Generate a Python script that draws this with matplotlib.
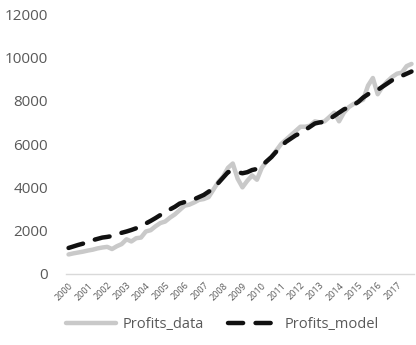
import matplotlib.pyplot as plt
import numpy as np

plt.rcParams['font.family'] = ['Open Sans', 'DejaVu Sans']

years = [str(y) for y in range(2000, 2018)]

# quarterly series, 2000Q1 .. 2017Q4
profits_data = [
    900, 950, 990, 1030, 1080, 1120, 1180, 1220, 1250, 1150, 1280, 1380,
    1600, 1500, 1650, 1680, 1960, 2020, 2200, 2350, 2420, 2600, 2750, 2950,
    3150, 3200, 3300, 3420, 3460, 3550, 3900, 4250, 4500, 4900, 5100, 4400,
    4000, 4300, 4550, 4350, 4900, 5200, 5400, 5700, 6000, 6200, 6400, 6600,
    6800, 6800, 6850, 7050, 7000, 7050, 7250, 7450, 7050, 7450, 7700, 7850,
    7950, 8050, 8700, 9050, 8300, 8650, 8900, 9100, 9250, 9300, 9600, 9700,
]
profits_model = [
    1200, 1270, 1340, 1400, 1480, 1560, 1620, 1680, 1710, 1750, 1820, 1900,
    1960, 2030, 2110, 2200, 2330, 2450, 2580, 2720, 2850, 2980, 3100, 3250,
    3320, 3380, 3450, 3550, 3650, 3800, 3950, 4200, 4450, 4700, 4750, 4700,
    4650, 4700, 4800, 4850, 5000, 5200, 5400, 5650, 5900, 6100, 6250, 6400,
    6500, 6650, 6800, 6950, 7000, 7020, 7150, 7300, 7450, 7600, 7700, 7800,
    7950, 8150, 8300, 8420, 8500, 8650, 8800, 8950, 9050, 9150, 9250, 9350,
]

x = np.arange(len(profits_data))
label_color = '#595959'

fig = plt.figure(figsize=(4.16, 3.45), dpi=100)
ax = fig.add_axes([0.159, 0.206, 0.836, 0.753])

ax.plot(x, profits_data, color='#c9c9c9', lw=3.2, solid_joinstyle='round',
        solid_capstyle='round', label='Profits_data')
ax.plot(x, profits_model, color='#111111', lw=3.2, dashes=(3.4, 2.8),
        dash_capstyle='round', label='Profits_model')

ax.set_xlim(-0.5, len(x) - 0.5)
ax.set_ylim(0, 12000)
ax.set_yticks(range(0, 12001, 2000))
ax.set_xticks(x[::4])
ax.set_xticklabels(years, rotation=45, ha='right', rotation_mode='anchor',
                   fontsize=6.5, color=label_color)
ax.tick_params(axis='y', length=0, labelsize=11, labelcolor=label_color, pad=13)
ax.tick_params(axis='x', length=0, pad=5)

for side in ['top', 'right', 'left']:
    ax.spines[side].set_visible(False)
ax.spines['bottom'].set_color('#d9d9d9')
ax.spines['bottom'].set_linewidth(1)

fig.legend(loc='lower center', bbox_to_anchor=(0.535, 0.0), ncol=2, frameon=False,
           fontsize=10.5, labelcolor=label_color, handlelength=3.4,
           columnspacing=1.6, handletextpad=0.5)

fig.savefig('out.png', dpi=100)
